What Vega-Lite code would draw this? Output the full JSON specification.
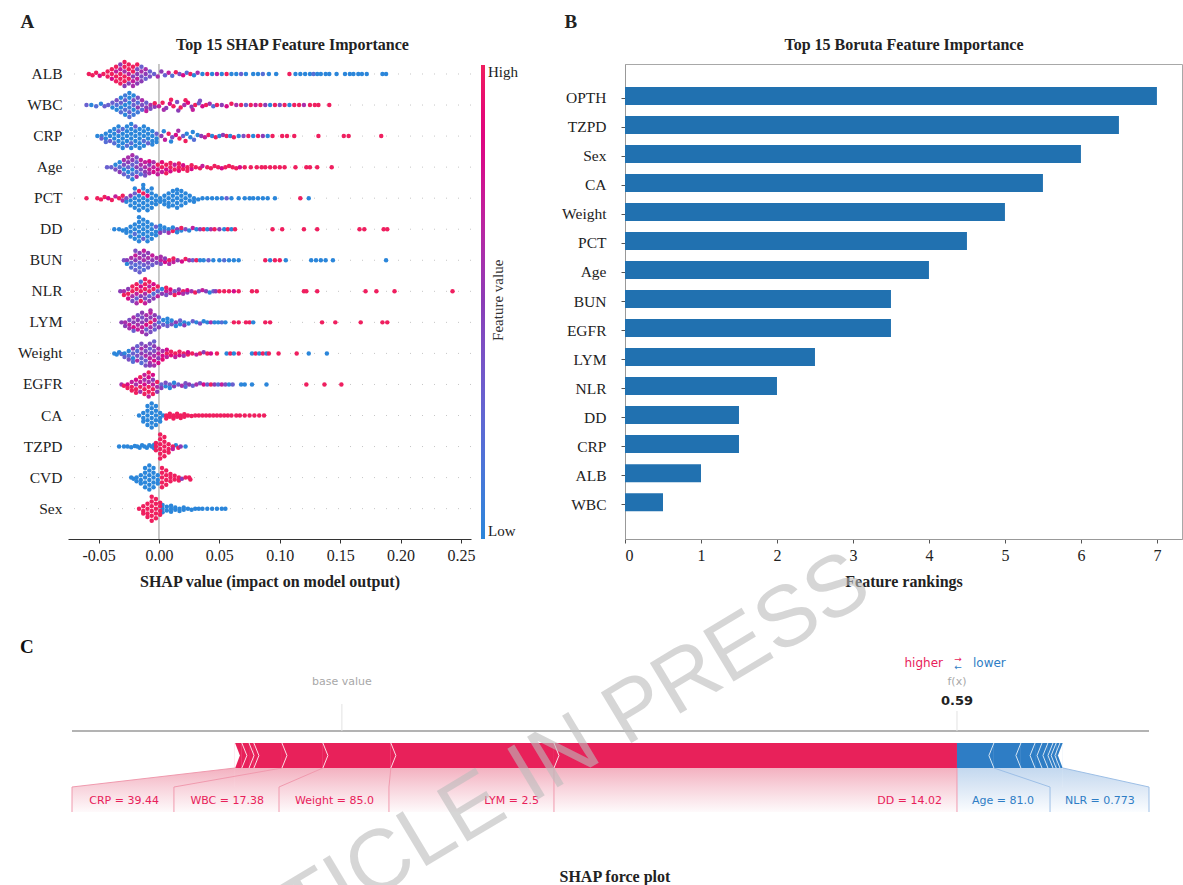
{
"$schema":"https://vega.github.io/schema/vega-lite/v6.json",
"background":"white",
"padding":{"left":17,"top":12,"right":0,"bottom":0},
"config":{
 "font":"Liberation Serif",
 "view":{"stroke":null},
 "axis":{"grid":false,"labelFont":"Liberation Serif","titleFont":"Liberation Serif","labelColor":"#222","titleColor":"#222"},
 "title":{"font":"Liberation Serif","fontWeight":"bold","color":"#222"},
 "legend":{"labelFont":"Liberation Serif"}
},
"datasets":{
 "segs":[
  {"f":"other1","lo":0.2488,"hi":0.2521,"d":"pos"},
  {"f":"other2","lo":0.2521,"hi":0.2555,"d":"pos"},
  {"f":"other3","lo":0.2555,"hi":0.2578,"d":"pos"},
  {"f":"CRP","lo":0.2578,"hi":0.2711,"d":"pos"},
  {"f":"WBC","lo":0.2711,"hi":0.2905,"d":"pos"},
  {"f":"Weight","lo":0.2905,"hi":0.3227,"d":"pos"},
  {"f":"LYM","lo":0.3227,"hi":0.4,"d":"pos"},
  {"f":"DD","lo":0.4,"hi":0.591,"d":"pos"},
  {"f":"Age","lo":0.591,"hi":0.6085,"d":"neg"},
  {"f":"NLR","lo":0.6085,"hi":0.6213,"d":"neg"},
  {"f":"other4","lo":0.6213,"hi":0.628,"d":"neg"},
  {"f":"other5","lo":0.628,"hi":0.6313,"d":"neg"},
  {"f":"other6","lo":0.6313,"hi":0.6341,"d":"neg"},
  {"f":"other7","lo":0.6341,"hi":0.6365,"d":"neg"},
  {"f":"other8","lo":0.6365,"hi":0.638,"d":"neg"},
  {"f":"other9","lo":0.638,"hi":0.6398,"d":"neg"},
  {"f":"other10","lo":0.6398,"hi":0.6412,"d":"neg"}
 ],
 "labs":[
  {"t":"CRP = 39.44","lo":0.1716,"hi":0.2199,"d":"pos"},
  {"t":"WBC = 17.38","lo":0.2199,"hi":0.2697,"d":"pos"},
  {"t":"Weight = 85.0","lo":0.2697,"hi":0.3218,"d":"pos"},
  {"t":"LYM = 2.5","lo":0.3218,"hi":0.4,"d":"pos"},
  {"t":"DD = 14.02","lo":0.4,"hi":0.591,"d":"pos"},
  {"t":"Age = 81.0","lo":0.591,"hi":0.6351,"d":"neg"},
  {"t":"NLR = 0.773","lo":0.6351,"hi":0.682,"d":"neg"}
 ],
 "links":[
  {"b":0.1716,"s":0.2488,"d":"pos"},
  {"b":0.2199,"s":0.2711,"d":"pos"},
  {"b":0.2697,"s":0.2905,"d":"pos"},
  {"b":0.3218,"s":0.3227,"d":"pos"},
  {"b":0.4,"s":0.4,"d":"pos"},
  {"b":0.591,"s":0.591,"d":"pos"},
  {"b":0.6351,"s":0.6085,"d":"neg"},
  {"b":0.682,"s":0.6412,"d":"neg"}
 ],
 "force":[{"base":0.2995,"fx":0.591}]
},
"columns":2,
"bounds":"flush",
"spacing":{"row":192,"column":154},
"resolve":{"scale":{"color":"independent"},"legend":{"color":"independent"}},
"concat":[
 {"width":403,"height":475,
  "title":{"text":"A","anchor":"start","fontSize":19,"offset":4,"dx":3},
  "resolve":{"axis":{"x":"independent"}},
  "layer":[
   {"data":{"values":[{"f":"ALB"},{"f":"WBC"},{"f":"CRP"},{"f":"Age"},{"f":"PCT"},{"f":"DD"},{"f":"BUN"},{"f":"NLR"},{"f":"LYM"},{"f":"Weight"},{"f":"EGFR"},{"f":"CA"},{"f":"TZPD"},{"f":"CVD"},{"f":"Sex"}]},
    "mark":{"type":"rule","color":"#c6c6c6","strokeDash":[1,11],"strokeWidth":1},
    "encoding":{"y":{"field":"f","type":"nominal",
      "scale":{"domain":["ALB","WBC","CRP","Age","PCT","DD","BUN","NLR","LYM","Weight","EGFR","CA","TZPD","CVD","Sex"],"paddingInner":0.5,"paddingOuter":0.4,"align":0.09},
      "axis":{"title":null,"domain":false,"ticks":false,"labelFontSize":15.5,"labelPadding":6}}}},
   {"data":{"values":[{}]},
    "mark":{"type":"rule","color":"#a6a6a6","strokeWidth":1.2},
    "encoding":{"x":{"datum":0,"type":"quantitative","axis":null}}},
   {"data":{"values":"f,s,o,v\nALB,-0.058,0,1\nALB,-0.055,0.1,1\nALB,-0.052,-0.1,1\nALB,-0.049,0.15,0.8\nALB,-0.046,0,1\nALB,-0.0425,0.2,1\nALB,-0.0425,-0.2,1\nALB,-0.039,0,1\nALB,-0.039,0.4,0.8\nALB,-0.039,-0.4,1\nALB,-0.0355,0.2,1\nALB,-0.0355,-0.2,0.7\nALB,-0.0355,0.6,1\nALB,-0.0355,-0.6,1\nALB,-0.032,0,1\nALB,-0.032,0.4,1\nALB,-0.032,-0.4,0.7\nALB,-0.032,0.8,1\nALB,-0.032,-0.8,0.5\nALB,-0.0285,0.2,1\nALB,-0.0285,-0.2,0.6\nALB,-0.0285,0.6,1\nALB,-0.0285,-0.6,1\nALB,-0.0285,1,0.5\nALB,-0.0285,-1,1\nALB,-0.025,0,0.7\nALB,-0.025,0.4,1\nALB,-0.025,-0.4,1\nALB,-0.025,0.8,0.5\nALB,-0.025,-0.8,1\nALB,-0.0215,0.2,0.5\nALB,-0.0215,-0.2,1\nALB,-0.0215,0.6,0.7\nALB,-0.0215,-0.6,1\nALB,-0.0215,1,0.6\nALB,-0.018,0,0.5\nALB,-0.018,0.4,0.7\nALB,-0.018,-0.4,0.4\nALB,-0.018,0.8,0.5\nALB,-0.018,-0.8,1\nALB,-0.0145,0.2,0.4\nALB,-0.0145,-0.2,0.6\nALB,-0.0145,0.6,0.5\nALB,-0.0145,-0.6,0.3\nALB,-0.011,0,0.5\nALB,-0.011,0.4,0.3\nALB,-0.011,-0.4,0.6\nALB,-0.0075,0.2,0.4\nALB,-0.0075,-0.2,0.3\nALB,-0.004,0,0.3\nALB,-0.001,0.2,0.6\nALB,0.002,-0.2,0.5\nALB,0.005,0.1,0.3\nALB,0.008,-0.1,0.7\nALB,0.011,0.15,0.2\nALB,0.014,-0.15,1\nALB,0.017,0,0.4\nALB,0.02,0.1,0.8\nALB,0.023,-0.1,0.2\nALB,0.026,0,1\nALB,0.029,0.1,0\nALB,0.032,-0.1,0.6\nALB,0.036,0,0\nALB,0.04,0,1\nALB,0.044,0,0\nALB,0.048,0,0.7\nALB,0.052,0,0\nALB,0.056,0,1\nALB,0.06,0,0\nALB,0.064,0,0\nALB,0.068,0,0.3\nALB,0.072,0,0\nALB,0.078,0,0\nALB,0.082,0,0\nALB,0.086,0,0.2\nALB,0.091,0,0\nALB,0.097,0,0\nALB,0.108,0,1\nALB,0.113,0,0\nALB,0.117,0,0\nALB,0.121,0,0\nALB,0.125,0,0\nALB,0.128,0,0.2\nALB,0.131,0,0\nALB,0.134,0,0\nALB,0.138,0,0\nALB,0.141,0,0\nALB,0.147,0,0\nALB,0.154,0,0\nALB,0.158,0,0\nALB,0.161,0,0\nALB,0.165,0,0\nALB,0.168,0,0\nALB,0.172,0,0\nALB,0.185,0,0\nALB,0.188,0,0\nWBC,-0.06,0,0.3\nWBC,-0.056,0,0\nWBC,-0.052,0.1,0.2\nWBC,-0.048,-0.1,0\nWBC,-0.045,0.1,0.3\nWBC,-0.042,0,0.3\nWBC,-0.0385,0.2,0\nWBC,-0.0385,-0.2,0.3\nWBC,-0.035,0,0.2\nWBC,-0.035,0.4,0\nWBC,-0.035,-0.4,0.4\nWBC,-0.0315,0.2,0\nWBC,-0.0315,-0.2,0.3\nWBC,-0.0315,0.6,0.2\nWBC,-0.0315,-0.6,0\nWBC,-0.028,0,0\nWBC,-0.028,0.4,0.2\nWBC,-0.028,-0.4,0.3\nWBC,-0.028,0.8,0\nWBC,-0.028,-0.8,0.1\nWBC,-0.0245,0.2,0.1\nWBC,-0.0245,-0.2,0\nWBC,-0.0245,0.6,0.3\nWBC,-0.0245,-0.6,0\nWBC,-0.0245,1,0.2\nWBC,-0.0245,-1,0\nWBC,-0.021,0,0.3\nWBC,-0.021,0.4,0\nWBC,-0.021,-0.4,0.4\nWBC,-0.021,0.8,0.1\nWBC,-0.021,-0.8,0\nWBC,-0.0175,0.2,0.5\nWBC,-0.0175,-0.2,0.2\nWBC,-0.0175,0.6,0.1\nWBC,-0.0175,-0.6,0.4\nWBC,-0.014,0,0.4\nWBC,-0.014,0.4,0.2\nWBC,-0.014,-0.4,0.6\nWBC,-0.0105,0.2,0.5\nWBC,-0.0105,-0.2,0.3\nWBC,-0.0105,0.5,0.7\nWBC,-0.007,0,0.6\nWBC,-0.007,0.3,0.4\nWBC,-0.0035,0.15,0.5\nWBC,-0.0035,-0.15,1\nWBC,0,0.1,0.7\nWBC,0.003,-0.2,1\nWBC,0.004,0.4,0.6\nWBC,0.006,0.25,0.5\nWBC,0.009,-0.1,0.8\nWBC,0.01,-0.45,1\nWBC,0.012,0.1,1\nWBC,0.015,-0.25,0.4\nWBC,0.016,0.45,0.5\nWBC,0.018,0.2,1\nWBC,0.021,0,0.6\nWBC,0.022,-0.4,1\nWBC,0.024,-0.2,0.9\nWBC,0.027,0.15,0.5\nWBC,0.028,0.4,0.7\nWBC,0.03,0,1\nWBC,0.033,-0.15,0.3\nWBC,0.034,-0.35,0.4\nWBC,0.036,0.1,0.8\nWBC,0.039,0,1\nWBC,0.042,-0.1,0.6\nWBC,0.045,0.1,0.2\nWBC,0.048,0,1\nWBC,0.052,0,0.5\nWBC,0.056,0.1,0.8\nWBC,0.06,-0.1,1\nWBC,0.064,0,0.6\nWBC,0.068,0,1\nWBC,0.072,0,0.3\nWBC,0.076,0,1\nWBC,0.08,0,0.7\nWBC,0.084,0,1\nWBC,0.088,0,0.5\nWBC,0.092,0,0\nWBC,0.096,0,1\nWBC,0.1,0,0.4\nWBC,0.104,0,1\nWBC,0.108,0,0\nWBC,0.112,0,1\nWBC,0.116,0,1\nWBC,0.12,0,0.6\nWBC,0.125,0,1\nWBC,0.129,0,1\nWBC,0.132,0,1\nWBC,0.141,0,1\nCRP,-0.051,0,0\nCRP,-0.0475,0,0\nCRP,-0.0475,0.2,0.3\nCRP,-0.044,0.2,0\nCRP,-0.044,-0.2,0\nCRP,-0.044,0.5,0.2\nCRP,-0.0405,0,0\nCRP,-0.0405,0.4,0.3\nCRP,-0.0405,-0.4,0\nCRP,-0.037,0.2,0\nCRP,-0.037,-0.2,0\nCRP,-0.037,0.6,0.2\nCRP,-0.037,-0.6,0\nCRP,-0.0335,0,0\nCRP,-0.0335,0.4,0\nCRP,-0.0335,-0.4,0.3\nCRP,-0.0335,0.8,0\nCRP,-0.0335,-0.8,0\nCRP,-0.03,0.2,0\nCRP,-0.03,-0.2,0\nCRP,-0.03,0.6,0\nCRP,-0.03,-0.6,0.2\nCRP,-0.03,1,0\nCRP,-0.0265,0,0\nCRP,-0.0265,0.4,0\nCRP,-0.0265,-0.4,0\nCRP,-0.0265,0.8,0.2\nCRP,-0.0265,-0.8,0\nCRP,-0.023,0.2,0\nCRP,-0.023,-0.2,0\nCRP,-0.023,0.6,0.2\nCRP,-0.023,-0.6,0\nCRP,-0.023,1,0\nCRP,-0.023,-1,0\nCRP,-0.0195,0,0\nCRP,-0.0195,0.4,0\nCRP,-0.0195,-0.4,0\nCRP,-0.0195,0.8,0\nCRP,-0.0195,-0.8,0.3\nCRP,-0.016,0.2,0\nCRP,-0.016,-0.2,0\nCRP,-0.016,0.6,0\nCRP,-0.016,-0.6,0\nCRP,-0.016,1,0\nCRP,-0.0125,0,0\nCRP,-0.0125,0.4,0.2\nCRP,-0.0125,-0.4,0\nCRP,-0.0125,0.8,0\nCRP,-0.0125,-0.8,0\nCRP,-0.009,0.2,0\nCRP,-0.009,-0.2,0\nCRP,-0.009,0.6,0.3\nCRP,-0.009,-0.6,0\nCRP,-0.0055,0,0\nCRP,-0.0055,0.4,0\nCRP,-0.0055,-0.4,0\nCRP,-0.0055,0.7,0\nCRP,-0.002,0.2,0\nCRP,-0.002,-0.2,0.3\nCRP,-0.002,0.5,0\nCRP,0.002,0,0.5\nCRP,0.004,-0.4,0\nCRP,0.005,0.3,0.7\nCRP,0.008,-0.2,1\nCRP,0.01,0.45,0\nCRP,0.011,0.1,0.4\nCRP,0.014,-0.1,0.8\nCRP,0.016,-0.45,0.6\nCRP,0.017,0.2,1\nCRP,0.02,0,0.3\nCRP,0.022,0.4,1\nCRP,0.023,-0.2,0\nCRP,0.026,0.1,0\nCRP,0.028,-0.35,0\nCRP,0.029,0.3,0.2\nCRP,0.032,-0.1,0\nCRP,0.035,0,0.5\nCRP,0.038,0.1,0.7\nCRP,0.041,-0.1,1\nCRP,0.044,0,0\nCRP,0.047,0.1,1\nCRP,0.05,0,0\nCRP,0.053,-0.1,0.5\nCRP,0.056,0,1\nCRP,0.059,0,0\nCRP,0.062,0.1,1\nCRP,0.066,0,0\nCRP,0.07,0,0.4\nCRP,0.074,0,1\nCRP,0.078,0,0\nCRP,0.082,0,1\nCRP,0.086,0,0.5\nCRP,0.09,0,0\nCRP,0.094,0,1\nCRP,0.102,0,1\nCRP,0.106,0,1\nCRP,0.112,0,1\nCRP,0.132,0,1\nCRP,0.153,0,1\nCRP,0.157,0,1\nCRP,0.184,0,1\nAge,-0.043,0,0.3\nAge,-0.0395,0,0.3\nAge,-0.036,0.2,0.4\nAge,-0.036,-0.2,0\nAge,-0.0325,0,0.2\nAge,-0.0325,0.4,0.5\nAge,-0.0325,-0.4,0\nAge,-0.029,0.2,0\nAge,-0.029,-0.2,0.4\nAge,-0.029,0.6,0.3\nAge,-0.029,-0.6,0.6\nAge,-0.0255,0,0.3\nAge,-0.0255,0.4,0\nAge,-0.0255,-0.4,0.5\nAge,-0.0255,0.8,0.2\nAge,-0.0255,-0.8,0.6\nAge,-0.022,0.2,0\nAge,-0.022,-0.2,0.3\nAge,-0.022,0.6,0.2\nAge,-0.022,-0.6,0.5\nAge,-0.022,1,0\nAge,-0.022,-1,0.6\nAge,-0.0185,0,0.5\nAge,-0.0185,0.4,0.2\nAge,-0.0185,-0.4,0.3\nAge,-0.0185,0.8,0.6\nAge,-0.0185,-0.8,0.4\nAge,-0.015,0.2,0.4\nAge,-0.015,-0.2,0.6\nAge,-0.015,0.6,0.2\nAge,-0.015,-0.6,0.7\nAge,-0.0115,0,0.6\nAge,-0.0115,0.4,0.5\nAge,-0.0115,-0.4,0.7\nAge,-0.0115,0.7,0.4\nAge,-0.008,0.2,0.7\nAge,-0.008,-0.2,0.5\nAge,-0.008,0.5,0.6\nAge,-0.008,-0.5,0.8\nAge,-0.0045,0,0.7\nAge,-0.0045,0.4,0.8\nAge,-0.0045,-0.4,0.6\nAge,-0.001,0.2,0.8\nAge,-0.001,-0.2,1\nAge,-0.001,0.6,0.7\nAge,0.0025,0,1\nAge,0.0025,0.4,0.7\nAge,0.0025,-0.4,0.9\nAge,0.006,0.2,0.8\nAge,0.006,-0.2,1\nAge,0.006,0.5,1\nAge,0.0095,0,1\nAge,0.0095,0.35,0.8\nAge,0.0095,-0.35,1\nAge,0.013,0.2,1\nAge,0.013,-0.2,0.7\nAge,0.0165,0,1\nAge,0.0165,0.3,0.9\nAge,0.0165,-0.3,1\nAge,0.02,0.15,1\nAge,0.02,-0.15,0.8\nAge,0.0235,0,1\nAge,0.0235,0.3,1\nAge,0.027,0.15,0.8\nAge,0.027,-0.15,1\nAge,0.0305,0,1\nAge,0.034,0.1,1\nAge,0.036,-0.1,0.7\nAge,0.04,0,1\nAge,0.043,0.1,1\nAge,0.046,-0.1,1\nAge,0.049,0,1\nAge,0.052,0.1,0.8\nAge,0.055,0,1\nAge,0.058,-0.1,1\nAge,0.061,0,1\nAge,0.064,0.1,1\nAge,0.067,0,0.8\nAge,0.071,0,1\nAge,0.076,0,1\nAge,0.081,0,1\nAge,0.085,0,1\nAge,0.088,0,1\nAge,0.092,0,1\nAge,0.096,0,1\nAge,0.1,0,1\nAge,0.104,0,1\nAge,0.113,0,1\nAge,0.122,0,1\nAge,0.125,0,1\nAge,0.131,0,1\nAge,0.143,0,1\nPCT,-0.06,0,1\nPCT,-0.051,0,1\nPCT,-0.048,0.1,1\nPCT,-0.045,-0.1,1\nPCT,-0.042,0,0.8\nPCT,-0.039,0.15,1\nPCT,-0.036,-0.15,0.7\nPCT,-0.033,0,1\nPCT,-0.03,0.2,0.6\nPCT,-0.03,-0.2,1\nPCT,-0.027,0,0.4\nPCT,-0.027,0.3,0\nPCT,-0.0235,0.2,0\nPCT,-0.0235,-0.2,0.5\nPCT,-0.0235,0.6,0\nPCT,-0.02,0,0\nPCT,-0.02,0.4,0\nPCT,-0.02,-0.4,0.3\nPCT,-0.02,0.8,0\nPCT,-0.02,-0.8,0\nPCT,-0.0165,0.2,0\nPCT,-0.0165,-0.2,0\nPCT,-0.0165,0.6,0\nPCT,-0.0165,-0.6,1\nPCT,-0.0165,1,0\nPCT,-0.013,0,0\nPCT,-0.013,0.4,0\nPCT,-0.013,-0.4,1\nPCT,-0.013,0.8,0\nPCT,-0.013,-0.8,0\nPCT,-0.013,-1.1,0\nPCT,-0.0095,0.2,0\nPCT,-0.0095,-0.2,0.8\nPCT,-0.0095,0.6,0\nPCT,-0.0095,-0.6,0\nPCT,-0.0095,1,0\nPCT,-0.006,0,0\nPCT,-0.006,0.4,0\nPCT,-0.006,-0.4,0\nPCT,-0.006,0.8,0\nPCT,-0.006,-0.8,0\nPCT,-0.0025,0.2,0\nPCT,-0.0025,-0.2,0\nPCT,-0.0025,0.5,0\nPCT,0.001,0,0\nPCT,0.001,0.3,0\nPCT,0.0045,0.2,0\nPCT,0.0045,-0.2,0\nPCT,0.0045,0.5,0\nPCT,0.008,0,0\nPCT,0.008,0.4,0\nPCT,0.008,-0.4,0\nPCT,0.008,0.7,0\nPCT,0.0115,0.2,0\nPCT,0.0115,-0.2,0\nPCT,0.0115,0.6,0\nPCT,0.0115,-0.6,0\nPCT,0.015,0,0\nPCT,0.015,0.4,0\nPCT,0.015,-0.4,0\nPCT,0.015,0.8,0\nPCT,0.015,-0.7,0\nPCT,0.0185,0.2,0\nPCT,0.0185,-0.2,0\nPCT,0.0185,0.6,0\nPCT,0.0185,-0.6,0\nPCT,0.022,0,0\nPCT,0.022,0.4,0\nPCT,0.022,-0.4,0\nPCT,0.0255,0.2,0\nPCT,0.0255,-0.2,0\nPCT,0.029,0,0\nPCT,0.029,0.3,0\nPCT,0.0325,0.1,0\nPCT,0.036,0,0\nPCT,0.04,0,0\nPCT,0.044,0,0\nPCT,0.048,0,0\nPCT,0.052,0,0\nPCT,0.056,0,0.3\nPCT,0.06,0,0\nPCT,0.066,0,0\nPCT,0.071,0,0\nPCT,0.075,0,0\nPCT,0.078,0,0\nPCT,0.082,0,0\nPCT,0.086,0,0\nPCT,0.09,0,0\nPCT,0.096,0,0\nPCT,0.117,0,1\nPCT,0.124,0,0\nDD,-0.037,0,0\nDD,-0.033,0,0\nDD,-0.03,0.1,0\nDD,-0.027,0,0\nDD,-0.027,0.3,0\nDD,-0.0235,0.2,0\nDD,-0.0235,-0.2,0\nDD,-0.0235,0.6,0\nDD,-0.02,0,0\nDD,-0.02,0.4,0.2\nDD,-0.02,-0.4,0\nDD,-0.02,0.8,0\nDD,-0.0165,0.2,0\nDD,-0.0165,-0.2,0\nDD,-0.0165,0.6,0\nDD,-0.0165,-0.6,0\nDD,-0.0165,1,0\nDD,-0.0165,-1,0\nDD,-0.013,0,0\nDD,-0.013,0.4,0\nDD,-0.013,-0.4,0\nDD,-0.013,0.8,0.3\nDD,-0.013,-0.8,0\nDD,-0.0095,0.2,0\nDD,-0.0095,-0.2,0\nDD,-0.0095,0.6,0\nDD,-0.0095,-0.6,0\nDD,-0.0095,1,0\nDD,-0.006,0,0\nDD,-0.006,0.4,0\nDD,-0.006,-0.4,0\nDD,-0.006,0.8,0\nDD,-0.0025,0.2,0\nDD,-0.0025,-0.2,0.3\nDD,-0.0025,0.5,0\nDD,0.001,0,0\nDD,0.001,0.3,0.5\nDD,0.001,-0.3,0\nDD,0.0045,0.15,0.3\nDD,0.0045,-0.15,0\nDD,0.008,0,0\nDD,0.008,0.3,0.6\nDD,0.0115,0.15,1\nDD,0.0115,-0.15,0\nDD,0.015,0,0.5\nDD,0.015,0.25,0\nDD,0.0185,0.1,0\nDD,0.0185,-0.1,1\nDD,0.022,0,0.4\nDD,0.025,0.1,0\nDD,0.028,-0.1,0.7\nDD,0.031,0,0\nDD,0.034,0,0.5\nDD,0.037,0,1\nDD,0.04,0,0\nDD,0.043,0,0.6\nDD,0.046,0,1\nDD,0.05,0,0.5\nDD,0.054,0,0\nDD,0.057,0,1\nDD,0.06,0,0\nDD,0.063,0,1\nDD,0.094,0,1\nDD,0.102,0,1\nDD,0.12,0,1\nDD,0.131,0,1\nDD,0.166,0,1\nDD,0.17,0,1\nDD,0.186,0,1\nDD,0.189,0,1\nBUN,-0.029,0,0.4\nBUN,-0.0265,0,0.5\nBUN,-0.0265,0.3,0\nBUN,-0.023,0.2,0.3\nBUN,-0.023,-0.2,0.6\nBUN,-0.023,0.6,0.2\nBUN,-0.0195,0,0.5\nBUN,-0.0195,0.4,0.2\nBUN,-0.0195,-0.4,0.7\nBUN,-0.0195,0.8,0.3\nBUN,-0.0195,-0.8,0.4\nBUN,-0.016,0.2,0.3\nBUN,-0.016,-0.2,0.6\nBUN,-0.016,0.6,0.2\nBUN,-0.016,-0.6,0.5\nBUN,-0.016,1,0.3\nBUN,-0.0125,0,0.6\nBUN,-0.0125,0.4,0.3\nBUN,-0.0125,-0.4,0.5\nBUN,-0.0125,0.8,0.2\nBUN,-0.0125,-0.8,0.7\nBUN,-0.009,0.2,0.4\nBUN,-0.009,-0.2,0.6\nBUN,-0.009,0.6,0.3\nBUN,-0.009,-0.6,0.5\nBUN,-0.0055,0,0.5\nBUN,-0.0055,0.4,0.3\nBUN,-0.0055,-0.4,0.7\nBUN,-0.002,0.2,0.4\nBUN,-0.002,-0.2,0.6\nBUN,0.0015,0,0.7\nBUN,0.0015,0.3,0.4\nBUN,0.0015,-0.3,0.6\nBUN,0.005,0.15,0.8\nBUN,0.005,-0.15,0.5\nBUN,0.0085,0,1\nBUN,0.0085,0.3,0.6\nBUN,0.012,0.15,0.7\nBUN,0.012,-0.15,1\nBUN,0.0155,0,0.5\nBUN,0.019,0.1,0.8\nBUN,0.022,-0.1,1\nBUN,0.025,0,0.6\nBUN,0.028,0,0.3\nBUN,0.031,0,1\nBUN,0.034,0,0\nBUN,0.037,0,0\nBUN,0.041,0,0.3\nBUN,0.045,0,0\nBUN,0.05,0,0\nBUN,0.054,0,0.2\nBUN,0.058,0,0\nBUN,0.062,0,0\nBUN,0.066,0,0\nBUN,0.088,0,1\nBUN,0.092,0,0\nBUN,0.096,0,1\nBUN,0.1,0,1\nBUN,0.105,0,0\nBUN,0.126,0,0\nBUN,0.13,0,0\nBUN,0.134,0,0\nBUN,0.138,0,0\nBUN,0.144,0,0\nBUN,0.188,0,0\nNLR,-0.032,0,0.5\nNLR,-0.029,0,0.6\nNLR,-0.029,0.3,1\nNLR,-0.0255,0.2,1\nNLR,-0.0255,-0.2,0.5\nNLR,-0.0255,0.6,0.8\nNLR,-0.022,0,1\nNLR,-0.022,0.4,0.6\nNLR,-0.022,-0.4,1\nNLR,-0.022,0.8,0.4\nNLR,-0.0185,0.2,0.7\nNLR,-0.0185,-0.2,1\nNLR,-0.0185,0.6,0.3\nNLR,-0.0185,-0.6,1\nNLR,-0.0185,1,0.6\nNLR,-0.015,0,1\nNLR,-0.015,0.4,0.5\nNLR,-0.015,-0.4,0.8\nNLR,-0.015,0.8,1\nNLR,-0.015,-0.8,0.2\nNLR,-0.0115,0.2,0.6\nNLR,-0.0115,-0.2,1\nNLR,-0.0115,0.6,0.4\nNLR,-0.0115,-0.6,1\nNLR,-0.0115,1,0.7\nNLR,-0.0115,-1,1\nNLR,-0.008,0,1\nNLR,-0.008,0.4,0.3\nNLR,-0.008,-0.4,0.7\nNLR,-0.008,0.8,0.5\nNLR,-0.008,-0.8,1\nNLR,-0.0045,0.2,0.2\nNLR,-0.0045,-0.2,1\nNLR,-0.0045,0.6,0.5\nNLR,-0.0045,-0.6,0.8\nNLR,-0.001,0,0.3\nNLR,-0.001,0.4,0.7\nNLR,-0.001,-0.4,1\nNLR,0.0025,0.2,0.5\nNLR,0.0025,-0.2,0\nNLR,0.006,0,0.7\nNLR,0.006,0.3,0.4\nNLR,0.006,-0.3,1\nNLR,0.0095,0.15,0.6\nNLR,0.0095,-0.15,0.9\nNLR,0.013,0,0.4\nNLR,0.013,0.3,1\nNLR,0.0165,0.15,0.8\nNLR,0.0165,-0.15,0.5\nNLR,0.02,0,1\nNLR,0.02,0.2,0.6\nNLR,0.0235,0.1,0.5\nNLR,0.0235,-0.1,0.8\nNLR,0.027,0,0.6\nNLR,0.03,0.1,1\nNLR,0.033,0,0.4\nNLR,0.036,-0.1,0.7\nNLR,0.039,0,0.5\nNLR,0.042,0.1,0\nNLR,0.045,0,0.3\nNLR,0.047,0,0.5\nNLR,0.05,0,1\nNLR,0.054,0,1\nNLR,0.058,0,1\nNLR,0.062,0,0.8\nNLR,0.066,0,1\nNLR,0.077,0,1\nNLR,0.081,0,1\nNLR,0.12,0,1\nNLR,0.122,0,1\nNLR,0.131,0,1\nNLR,0.171,0,1\nNLR,0.18,0,1\nNLR,0.195,0,1\nNLR,0.243,0,1\nLYM,-0.031,0,0.5\nLYM,-0.028,0,0.6\nLYM,-0.028,0.3,0.5\nLYM,-0.0245,0.2,0.7\nLYM,-0.0245,-0.2,0.4\nLYM,-0.0245,0.5,0.6\nLYM,-0.021,0,0.5\nLYM,-0.021,0.4,0.8\nLYM,-0.021,-0.4,0.6\nLYM,-0.021,0.7,0.3\nLYM,-0.0175,0.2,0.6\nLYM,-0.0175,-0.2,0.5\nLYM,-0.0175,0.6,0.7\nLYM,-0.0175,-0.6,0.4\nLYM,-0.014,0,0.5\nLYM,-0.014,0.4,0.7\nLYM,-0.014,-0.4,0.4\nLYM,-0.014,0.8,0.6\nLYM,-0.014,-0.8,0.5\nLYM,-0.0105,0.2,0.8\nLYM,-0.0105,-0.2,0.5\nLYM,-0.0105,0.6,0.3\nLYM,-0.0105,-0.6,0.6\nLYM,-0.0105,1,0.5\nLYM,-0.007,0,1\nLYM,-0.007,0.4,0.6\nLYM,-0.007,-0.4,0.5\nLYM,-0.007,0.8,0.4\nLYM,-0.007,-0.8,0.7\nLYM,-0.007,-1,0.6\nLYM,-0.0035,0.2,0.4\nLYM,-0.0035,-0.2,0.7\nLYM,-0.0035,0.6,0.3\nLYM,-0.0035,-0.6,0.5\nLYM,0,0,0.2\nLYM,0,0.4,0.5\nLYM,0,-0.4,0.3\nLYM,0.0035,0.2,0.3\nLYM,0.0035,-0.2,0\nLYM,0.007,0,0\nLYM,0.007,0.3,0.3\nLYM,0.007,-0.3,0\nLYM,0.0105,0.15,0.4\nLYM,0.0105,-0.15,0\nLYM,0.014,0,0.5\nLYM,0.014,0.3,0\nLYM,0.0175,0.15,0\nLYM,0.0175,-0.15,0.3\nLYM,0.021,0,0\nLYM,0.021,0.25,0.5\nLYM,0.0245,0.1,0\nLYM,0.028,-0.1,0.3\nLYM,0.031,0,0\nLYM,0.034,0.1,0.4\nLYM,0.037,-0.1,0\nLYM,0.04,0,0\nLYM,0.043,0,0.6\nLYM,0.046,0,0\nLYM,0.049,0,0\nLYM,0.052,0,0.2\nLYM,0.055,0,0\nLYM,0.062,0,1\nLYM,0.066,0,1\nLYM,0.072,0,1\nLYM,0.075,0,1\nLYM,0.078,0,0\nLYM,0.088,0,1\nLYM,0.092,0,1\nLYM,0.135,0,1\nLYM,0.146,0,1\nLYM,0.167,0,1\nLYM,0.185,0,1\nLYM,0.189,0,1\nWeight,-0.037,0,0\nWeight,-0.035,0.1,0\nWeight,-0.033,-0.1,0\nWeight,-0.031,0.05,0.2\nWeight,-0.0285,0,0\nWeight,-0.0285,0.3,0.3\nWeight,-0.025,0.2,0.2\nWeight,-0.025,-0.2,0\nWeight,-0.025,0.5,0.4\nWeight,-0.0215,0,0.3\nWeight,-0.0215,0.4,0\nWeight,-0.0215,-0.4,0.5\nWeight,-0.0215,0.7,0.2\nWeight,-0.018,0.2,0.4\nWeight,-0.018,-0.2,0.2\nWeight,-0.018,0.6,0.6\nWeight,-0.018,-0.6,0.3\nWeight,-0.0145,0,0.5\nWeight,-0.0145,0.4,0.3\nWeight,-0.0145,-0.4,0.6\nWeight,-0.0145,0.8,0.2\nWeight,-0.0145,-0.8,0.4\nWeight,-0.011,0.2,0.6\nWeight,-0.011,-0.2,0.4\nWeight,-0.011,0.6,0.3\nWeight,-0.011,-0.6,0.5\nWeight,-0.011,1,0.4\nWeight,-0.0075,0,0.5\nWeight,-0.0075,0.4,0.7\nWeight,-0.0075,-0.4,0.3\nWeight,-0.0075,0.8,0.6\nWeight,-0.0075,-0.8,0.4\nWeight,-0.0075,1,0.5\nWeight,-0.004,0.2,0.6\nWeight,-0.004,-0.2,0.4\nWeight,-0.004,0.6,0.8\nWeight,-0.004,-0.6,0.5\nWeight,-0.004,1,0.6\nWeight,-0.004,-1,0.3\nWeight,-0.0005,0,0.7\nWeight,-0.0005,0.4,0.5\nWeight,-0.0005,-0.4,0.6\nWeight,-0.0005,0.8,0.8\nWeight,0.003,0.2,0.8\nWeight,0.003,-0.2,0.6\nWeight,0.003,0.5,0.9\nWeight,0.0065,0,1\nWeight,0.0065,0.3,0.7\nWeight,0.0065,-0.3,0.8\nWeight,0.01,0.15,0.9\nWeight,0.01,-0.15,1\nWeight,0.0135,0,1\nWeight,0.0135,0.3,0.7\nWeight,0.017,0.15,0.8\nWeight,0.017,-0.15,1\nWeight,0.0205,0,1\nWeight,0.0205,0.2,0.6\nWeight,0.024,0.1,1\nWeight,0.024,-0.1,0.8\nWeight,0.0275,0,1\nWeight,0.031,0.1,0.7\nWeight,0.034,0,1\nWeight,0.037,-0.1,0.5\nWeight,0.04,0,1\nWeight,0.043,0,0.8\nWeight,0.048,0,1\nWeight,0.056,0,0\nWeight,0.059,0,1\nWeight,0.062,0,0\nWeight,0.066,0,1\nWeight,0.077,0,0\nWeight,0.08,0,1\nWeight,0.083,0,0\nWeight,0.086,0,1\nWeight,0.089,0,0\nWeight,0.091,0,1\nWeight,0.099,0,1\nWeight,0.114,0,1\nWeight,0.124,0,0\nWeight,0.139,0,0\nEGFR,-0.031,0,0.6\nEGFR,-0.029,0.1,1\nEGFR,-0.026,0,0.8\nEGFR,-0.026,0.3,1\nEGFR,-0.0225,0.2,1\nEGFR,-0.0225,-0.2,0.7\nEGFR,-0.0225,0.5,1\nEGFR,-0.019,0,0.6\nEGFR,-0.019,0.4,1\nEGFR,-0.019,-0.4,0.8\nEGFR,-0.019,0.7,1\nEGFR,-0.0155,0.2,1\nEGFR,-0.0155,-0.2,0.7\nEGFR,-0.0155,0.6,0.6\nEGFR,-0.0155,-0.6,1\nEGFR,-0.012,0,0.8\nEGFR,-0.012,0.4,1\nEGFR,-0.012,-0.4,0.6\nEGFR,-0.012,0.8,1\nEGFR,-0.012,-0.8,0.7\nEGFR,-0.0085,0.2,1\nEGFR,-0.0085,-0.2,0.6\nEGFR,-0.0085,0.6,1\nEGFR,-0.0085,-0.6,0.8\nEGFR,-0.0085,1,0.7\nEGFR,-0.0085,-1,1\nEGFR,-0.005,0,0.7\nEGFR,-0.005,0.4,1\nEGFR,-0.005,-0.4,0.5\nEGFR,-0.005,0.8,1\nEGFR,-0.005,-0.8,0.8\nEGFR,-0.0015,0.2,0.6\nEGFR,-0.0015,-0.2,1\nEGFR,-0.0015,0.6,0.5\nEGFR,0.002,0,0.3\nEGFR,0.002,0.3,0.5\nEGFR,0.0055,0.15,0\nEGFR,0.0055,-0.15,0.4\nEGFR,0.009,0,0.3\nEGFR,0.009,0.3,0\nEGFR,0.0125,0.15,0.5\nEGFR,0.0125,-0.15,0\nEGFR,0.016,0,0.3\nEGFR,0.019,0.1,0.6\nEGFR,0.022,-0.1,0.4\nEGFR,0.022,0.2,0.2\nEGFR,0.025,0,0.5\nEGFR,0.028,0.1,0.3\nEGFR,0.031,0,0.6\nEGFR,0.034,-0.1,0.4\nEGFR,0.037,0,0.8\nEGFR,0.04,0,0.3\nEGFR,0.043,0,1\nEGFR,0.046,0,0.5\nEGFR,0.049,0,0.2\nEGFR,0.052,0,0.7\nEGFR,0.055,0,0.4\nEGFR,0.058,0,0\nEGFR,0.061,0,0.3\nEGFR,0.068,0,0\nEGFR,0.071,0,0\nEGFR,0.077,0,0\nEGFR,0.089,0,0\nEGFR,0.122,0,1\nEGFR,0.137,0,1\nEGFR,0.151,0,1\nCA,-0.0165,0,0\nCA,-0.013,0.2,0\nCA,-0.013,-0.2,0\nCA,-0.013,0.5,0\nCA,-0.0095,0,0\nCA,-0.0095,0.4,0\nCA,-0.0095,-0.4,0\nCA,-0.0095,0.8,0\nCA,-0.0095,-0.8,0\nCA,-0.006,0.2,0\nCA,-0.006,-0.2,0\nCA,-0.006,0.6,0\nCA,-0.006,-0.6,0\nCA,-0.006,1,0\nCA,-0.006,-1,0\nCA,-0.0025,0,0\nCA,-0.0025,0.4,0\nCA,-0.0025,-0.4,0\nCA,-0.0025,0.8,0\nCA,-0.0025,-0.8,0\nCA,0.001,0.2,0\nCA,0.001,-0.2,0\nCA,0.001,0.5,0\nCA,0.0035,0,0\nCA,0.006,0,1\nCA,0.006,0.25,1\nCA,0.009,0.1,1\nCA,0.009,-0.15,1\nCA,0.012,0,1\nCA,0.012,0.25,1\nCA,0.015,0.1,1\nCA,0.015,-0.15,1\nCA,0.018,0,1\nCA,0.018,0.2,1\nCA,0.021,0.1,1\nCA,0.021,-0.1,1\nCA,0.024,0,1\nCA,0.027,0.05,1\nCA,0.03,0,1\nCA,0.033,0,1\nCA,0.036,0,1\nCA,0.039,0,1\nCA,0.042,0,1\nCA,0.045,0,1\nCA,0.048,0,1\nCA,0.051,0,1\nCA,0.054,0,1\nCA,0.057,0,1\nCA,0.06,0,1\nCA,0.064,0,1\nCA,0.067,0,1\nCA,0.071,0,1\nCA,0.075,0,1\nCA,0.079,0,1\nCA,0.083,0,1\nCA,0.087,0,1\nTZPD,-0.033,0,0\nTZPD,-0.029,0,0\nTZPD,-0.026,0,0\nTZPD,-0.023,0.05,0\nTZPD,-0.02,-0.05,0\nTZPD,-0.018,0,0\nTZPD,-0.016,0.1,0\nTZPD,-0.014,-0.1,0\nTZPD,-0.012,0,0\nTZPD,-0.01,0.1,0\nTZPD,-0.008,-0.1,0\nTZPD,-0.006,0,0\nTZPD,-0.004,0.15,0\nTZPD,-0.004,-0.15,0\nTZPD,0.014,-0.1,0\nTZPD,0.022,0,0\nTZPD,-0.0025,0,1\nTZPD,-0.0025,0.3,1\nTZPD,-0.0025,-0.3,1\nTZPD,0.001,0.2,1\nTZPD,0.001,-0.2,1\nTZPD,0.001,0.6,1\nTZPD,0.001,-0.6,1\nTZPD,0.001,1,1\nTZPD,0.001,-1,1\nTZPD,0.0045,0,1\nTZPD,0.0045,0.4,1\nTZPD,0.0045,-0.4,1\nTZPD,0.0045,0.8,1\nTZPD,0.0045,-0.8,1\nTZPD,0.008,0.2,1\nTZPD,0.008,-0.2,1\nTZPD,0.008,0.5,1\nTZPD,0.0115,0,1\nTZPD,0.0115,0.2,0.7\nTZPD,0.016,0.1,1\nTZPD,0.018,0,0.5\nCVD,-0.023,0,0\nCVD,-0.021,0.1,0\nCVD,-0.0185,0,0\nCVD,-0.0185,0.3,0\nCVD,-0.015,0.2,0\nCVD,-0.015,-0.2,0\nCVD,-0.015,0.5,0\nCVD,-0.0115,0,0\nCVD,-0.0115,0.4,0\nCVD,-0.0115,-0.4,0\nCVD,-0.0115,0.8,0\nCVD,-0.0115,-0.8,0\nCVD,-0.008,0.2,0\nCVD,-0.008,-0.2,0\nCVD,-0.008,0.6,0\nCVD,-0.008,-0.6,0\nCVD,-0.008,1,0\nCVD,-0.008,-1,0\nCVD,-0.0045,0,0\nCVD,-0.0045,0.4,0\nCVD,-0.0045,-0.4,0\nCVD,-0.0045,0.8,0\nCVD,-0.0045,-0.8,0\nCVD,-0.001,0.2,0\nCVD,-0.001,-0.2,0\nCVD,-0.001,0.5,0\nCVD,0.0025,0,1\nCVD,0.0025,0.4,1\nCVD,0.0025,-0.4,1\nCVD,0.0025,0.8,1\nCVD,0.0025,-0.8,1\nCVD,0.006,0.2,1\nCVD,0.006,-0.2,1\nCVD,0.006,0.6,1\nCVD,0.006,-0.6,1\nCVD,0.0095,0,1\nCVD,0.0095,0.3,1\nCVD,0.0095,-0.3,1\nCVD,0.013,0.15,1\nCVD,0.013,-0.15,1\nCVD,0.0165,0,1\nCVD,0.0165,0.25,1\nCVD,0.019,0.1,0.5\nCVD,0.022,0,1\nCVD,0.025,0,1\nCVD,0.026,0.15,1\nSex,0.003,0,0\nSex,0.003,0.3,0\nSex,0.003,-0.3,0\nSex,0.0065,0.15,0\nSex,0.0065,-0.15,0\nSex,0.01,0,0\nSex,0.01,0.25,0\nSex,0.01,-0.25,0\nSex,0.0135,0.1,0\nSex,0.0135,-0.1,0\nSex,0.017,0,0\nSex,0.017,0.2,0\nSex,0.0205,0.1,0\nSex,0.0205,-0.1,0\nSex,0.024,0,0\nSex,0.027,0.1,0\nSex,0.03,0,0\nSex,0.033,0,0\nSex,0.036,0,0\nSex,0.04,0,0\nSex,0.044,0,0\nSex,0.048,0,0\nSex,0.052,0,0\nSex,0.055,0,0\nSex,-0.0165,0,1\nSex,-0.013,0.2,1\nSex,-0.013,-0.2,1\nSex,-0.013,0.4,1\nSex,-0.0095,0,1\nSex,-0.0095,0.4,1\nSex,-0.0095,-0.4,1\nSex,-0.0095,0.7,1\nSex,-0.006,0.2,1\nSex,-0.006,-0.2,1\nSex,-0.006,0.6,1\nSex,-0.006,-0.6,1\nSex,-0.006,1,1\nSex,-0.006,-1,1\nSex,-0.0025,0,1\nSex,-0.0025,0.4,1\nSex,-0.0025,-0.4,1\nSex,-0.0025,0.8,1\nSex,-0.0025,-0.8,1\nSex,0.001,0.2,1\nSex,0.001,-0.2,1\nSex,0.001,0.5,1\nSex,0.001,-0.5,1","format":{"type":"csv","parse":{"s":"number","o":"number","v":"number"}}},
    "mark":{"type":"circle","size":20,"opacity":1},
    "encoding":{
     "x":{"field":"s","type":"quantitative","scale":{"domain":[-0.0753,0.2583],"nice":false,"zero":false},
      "axis":{"values":[-0.05,0,0.05,0.1,0.15,0.2,0.25],"labelExpr":"(datum.value < 0 ? '-' : '') + format(abs(datum.value), '.2f')","title":"SHAP value (impact on model output)","titleFontSize":16,"titleFontWeight":"bold","labelFontSize":16,"tickSize":4,"labelPadding":4,"titlePadding":10,"domainColor":"#333","tickColor":"#333"}},
     "y":{"field":"f","type":"nominal","axis":{"title":null,"domain":false,"ticks":false,"labelFontSize":15.5,"labelPadding":6}},
     "yOffset":{"field":"o","type":"quantitative","scale":{"domain":[-1,1],"range":[-4.23,19.77]}},
     "color":{"field":"v","type":"quantitative","scale":{"domain":[0,0.5,1],"range":["#2b86da","#8b3cb6","#ef1f5f"]},
      "legend":{"orient":"none","legendX":413,"legendY":1,"direction":"vertical","gradientLength":474,"gradientThickness":4,"title":null,"values":[0,1],"labelExpr":"datum.value > 0.5 ? 'High' : 'Low'","labelFontSize":15,"labelColor":"#222","labelOffset":3,"gradientStrokeWidth":0}}
    }},
   {"data":{"values":[{}]},
    "mark":{"type":"text","text":"Feature value","angle":270,"fontSize":15,"font":"Liberation Serif","color":"#333","dx":-9,"baseline":"middle","align":"center"},
    "encoding":{"x":{"datum":0.2806,"type":"quantitative","axis":null},"y":{"datum":"NLR","type":"nominal","axis":{"title":null,"domain":false,"ticks":false,"labelFontSize":15.5,"labelPadding":6}}}},
   {"data":{"values":[{}]},
    "mark":{"type":"text","text":"","opacity":0},
    "encoding":{"x":{"datum":0,"type":"quantitative",
      "axis":{"orient":"top","title":"Top 15 SHAP Feature Importance","labels":false,"ticks":false,"domain":false,"titleFontSize":16,"titleFontWeight":"bold","titlePadding":12,"titleX":224}}}}
  ]},
 {"width":557,"height":475,
  "view":{"stroke":"#a8a8a8"},
  "title":{"text":"B","anchor":"start","fontSize":19,"offset":4,"dx":3},
  "resolve":{"axis":{"x":"independent"}},
  "layer":[
   {"data":{"values":[{"f":"OPTH","r":7},{"f":"TZPD","r":6.5},{"f":"Sex","r":6},{"f":"CA","r":5.5},{"f":"Weight","r":5},{"f":"PCT","r":4.5},{"f":"Age","r":4},{"f":"BUN","r":3.5},{"f":"EGFR","r":3.5},{"f":"LYM","r":2.5},{"f":"NLR","r":2},{"f":"DD","r":1.5},{"f":"CRP","r":1.5},{"f":"ALB","r":1},{"f":"WBC","r":0.5}]},
    "mark":{"type":"bar","color":"#2171b0"},
    "encoding":{
     "y":{"field":"f","type":"nominal","sort":null,"scale":{"paddingInner":0.21,"paddingOuter":0.79},
      "axis":{"title":null,"labelFontSize":15.5,"tickSize":4,"labelPadding":15,"domainColor":"#999","tickColor":"#555"}},
     "x":{"field":"r","type":"quantitative","scale":{"domain":[0,7.33],"nice":false},
      "axis":{"values":[0,1,2,3,4,5,6,7],"title":"Feature rankings","titleFontSize":16,"titleFontWeight":"bold","labelFontSize":16,"tickSize":4,"labelPadding":4,"titlePadding":10,"domainColor":"#999","tickColor":"#555"}}
    }},
   {"data":{"values":[{}]},
    "mark":{"type":"text","text":"","opacity":0},
    "encoding":{"x":{"datum":0,"type":"quantitative",
      "axis":{"orient":"top","title":"Top 15 Boruta Feature Importance","labels":false,"ticks":false,"domain":false,"titleFontSize":16,"titleFontWeight":"bold","titlePadding":12}}}}
  ]},
 {"width":403,"height":83,
  "layer":[
   {"data":{"name":"segs"},
    "transform":[{"filter":"datum.d === 'pos'"},{"aggregate":[{"op":"min","field":"lo","as":"lo"},{"op":"max","field":"hi","as":"hi"}]}],
    "mark":{"type":"rect","fill":{"gradient":"linear","x1":0,"y1":0,"x2":0,"y2":1,"stops":[{"offset":0,"color":"#f3b1c0"},{"offset":1,"color":"#f8d2db"}]}},
    "encoding":{"x":{"field":"lo","type":"quantitative","axis":null},"x2":{"field":"hi"},"y":{"datum":37,"type":"quantitative","axis":null},"y2":{"datum":56}}},
   {"data":{"name":"segs"},
    "transform":[{"filter":"datum.d === 'neg'"},{"aggregate":[{"op":"min","field":"lo","as":"lo"},{"op":"max","field":"hi","as":"hi"}]}],
    "mark":{"type":"rect","fill":{"gradient":"linear","x1":0,"y1":0,"x2":0,"y2":1,"stops":[{"offset":0,"color":"#c3d8ef"},{"offset":1,"color":"#dbe7f5"}]}},
    "encoding":{"x":{"field":"lo","type":"quantitative","axis":null},"x2":{"field":"hi"},"y":{"datum":37,"type":"quantitative","axis":null},"y2":{"datum":56}}},
   {"data":{"name":"labs"},
    "transform":[{"filter":"datum.d === 'pos'"},{"aggregate":[{"op":"min","field":"lo","as":"lo"},{"op":"max","field":"hi","as":"hi"}]}],
    "mark":{"type":"rect","fill":{"gradient":"linear","x1":0,"y1":0,"x2":0,"y2":1,"stops":[{"offset":0,"color":"#f8d2db"},{"offset":1,"color":"#fefafb"}]}},
    "encoding":{"x":{"field":"lo","type":"quantitative","axis":null},"x2":{"field":"hi"},"y":{"datum":56,"type":"quantitative","axis":null},"y2":{"datum":81}}},
   {"data":{"name":"labs"},
    "transform":[{"filter":"datum.d === 'neg'"},{"aggregate":[{"op":"min","field":"lo","as":"lo"},{"op":"max","field":"hi","as":"hi"}]}],
    "mark":{"type":"rect","fill":{"gradient":"linear","x1":0,"y1":0,"x2":0,"y2":1,"stops":[{"offset":0,"color":"#dbe7f5"},{"offset":1,"color":"#fbfdff"}]}},
    "encoding":{"x":{"field":"lo","type":"quantitative","axis":null},"x2":{"field":"hi"},"y":{"datum":56,"type":"quantitative","axis":null},"y2":{"datum":81}}},
   {"data":{"name":"force"},
    "mark":{"type":"point","shape":"M-1,0.2333L1,0L1,0.2333Z","size":26536,"filled":true,"opacity":1,"strokeWidth":0,"fill":{"gradient":"linear","x1":0,"y1":0,"x2":0,"y2":1,"stops":[{"offset":0,"color":"#f3b1c0"},{"offset":1,"color":"#f8d2db"}]}},
    "encoding":{"x":{"datum":0.2102,"type":"quantitative","axis":null},"y":{"datum":37,"type":"quantitative","axis":null}}},
   {"data":{"name":"force"},
    "mark":{"type":"point","shape":"M-1,0L1,0.4414L-1,0.4414Z","size":7413,"filled":true,"opacity":1,"strokeWidth":0,"fill":{"gradient":"linear","x1":0,"y1":0,"x2":0,"y2":1,"stops":[{"offset":0,"color":"#c3d8ef"},{"offset":1,"color":"#dbe7f5"}]}},
    "encoding":{"x":{"datum":0.6616,"type":"quantitative","axis":null},"y":{"datum":37,"type":"quantitative","axis":null}}},
   {"data":{"name":"links"},
    "mark":{"type":"rule","strokeWidth":1},
    "encoding":{"x":{"field":"s","type":"quantitative","axis":null},"x2":{"field":"b"},"y":{"datum":37,"type":"quantitative","axis":null},"y2":{"datum":56},
     "color":{"condition":{"test":"datum.d === 'pos'","value":"#f09aae"},"value":"#9dbfe6"}}},
   {"data":{"name":"links"},
    "mark":{"type":"rule","strokeWidth":1},
    "encoding":{"x":{"field":"b","type":"quantitative","axis":null},"y":{"datum":56,"type":"quantitative","axis":null},"y2":{"datum":81},
     "color":{"condition":{"test":"datum.d === 'pos'","value":"#f09aae"},"value":"#9dbfe6"}}},
   {"data":{"name":"segs"},
    "mark":{"type":"rect"},
    "encoding":{
     "x":{"field":"lo","type":"quantitative","scale":{"domain":[0.1697,0.682],"range":[0,1081],"nice":false,"zero":false},
      "axis":{"orient":"top","values":[0.2,0.25,0.3,0.35,0.4,0.45,0.5,0.55,0.6,0.65],"format":".2f","title":null,"domain":false,"labelFont":"DejaVu Sans","labelFontSize":8.5,"labelColor":"#333","tickSize":3,"tickColor":"#555","labelPadding":3}},
     "x2":{"field":"hi"},
     "y":{"datum":12,"type":"quantitative","scale":{"domain":[0,83],"nice":false,"zero":false,"reverse":true},"axis":null},
     "y2":{"datum":37},
     "fill":{"condition":{"test":"datum.d === 'pos'","value":"#e8215a"},"value":"#2e7dc5"}}},
   {"data":{"name":"segs"},
    "transform":[{"filter":"datum.d === 'pos' && datum.hi < 0.59"}],
    "mark":{"type":"point","shape":"M0,-1L0.4,0L0,1","size":625,"filled":false,"stroke":"white","strokeWidth":1,"opacity":0.85},
    "encoding":{"x":{"field":"hi","type":"quantitative","axis":null},"y":{"datum":24.5,"type":"quantitative","axis":null}}},
   {"data":{"name":"segs"},
    "transform":[{"filter":"datum.d === 'neg' && datum.lo > 0.592"}],
    "mark":{"type":"point","shape":"M0,-1L-0.4,0L0,1","size":625,"filled":false,"stroke":"white","strokeWidth":1,"opacity":0.8},
    "encoding":{"x":{"field":"lo","type":"quantitative","axis":null},"y":{"datum":24.5,"type":"quantitative","axis":null}}},
   {"data":{"name":"segs"},
    "transform":[{"filter":"datum.d === 'pos'"},{"aggregate":[{"op":"min","field":"lo","as":"lo"}]}],
    "mark":{"type":"point","shape":"M0,-1.05L0.4,0L0,1.05Z","size":625,"filled":true,"color":"white","opacity":1,"strokeWidth":0},
    "encoding":{"x":{"field":"lo","type":"quantitative","axis":null},"y":{"datum":24.5,"type":"quantitative","axis":null}}},
   {"data":{"name":"segs"},
    "transform":[{"filter":"datum.d === 'neg'"},{"aggregate":[{"op":"max","field":"hi","as":"hi"}]}],
    "mark":{"type":"point","shape":"M0,-1.05L-0.4,0L0,1.05Z","size":625,"filled":true,"color":"white","opacity":1,"strokeWidth":0},
    "encoding":{"x":{"field":"hi","type":"quantitative","axis":null},"y":{"datum":24.5,"type":"quantitative","axis":null}}},
   {"data":{"name":"labs"},
    "transform":[{"aggregate":[{"op":"min","field":"lo","as":"lo"},{"op":"max","field":"hi","as":"hi"}]}],
    "mark":{"type":"rule","color":"#b3b3b3","strokeWidth":2},
    "encoding":{"x":{"field":"lo","type":"quantitative","axis":null},"x2":{"field":"hi"},"y":{"datum":0,"type":"quantitative","axis":null}}},
   {"data":{"name":"labs"},
    "transform":[{"filter":"datum.d === 'pos'"}],
    "mark":{"type":"text","font":"DejaVu Sans","fontSize":11,"align":"right","baseline":"middle","dx":-15,"color":"#e8215a"},
    "encoding":{"x":{"field":"hi","type":"quantitative","axis":null},"y":{"datum":70,"type":"quantitative","axis":null},"text":{"field":"t"}}},
   {"data":{"name":"labs"},
    "transform":[{"filter":"datum.d === 'neg'"}],
    "mark":{"type":"text","font":"DejaVu Sans","fontSize":11,"align":"left","baseline":"middle","dx":15,"color":"#2e7dc5"},
    "encoding":{"x":{"field":"lo","type":"quantitative","axis":null},"y":{"datum":70,"type":"quantitative","axis":null},"text":{"field":"t"}}},
   {"data":{"name":"force"},
    "mark":{"type":"rule","color":"#e2e2e2","strokeWidth":1},
    "encoding":{"x":{"field":"base","type":"quantitative","axis":null},"y":{"datum":-27,"type":"quantitative","axis":null},"y2":{"datum":0}}},
   {"data":{"name":"force"},
    "mark":{"type":"rule","color":"#e2e2e2","strokeWidth":1},
    "encoding":{"x":{"field":"fx","type":"quantitative","axis":null},"y":{"datum":-20,"type":"quantitative","axis":null},"y2":{"datum":0}}},
   {"data":{"name":"force"},
    "mark":{"type":"text","text":"base value","font":"DejaVu Sans","fontSize":11,"color":"#a8a8a8","baseline":"middle","align":"center"},
    "encoding":{"x":{"field":"base","type":"quantitative","axis":null},"y":{"datum":-49,"type":"quantitative","axis":null}}},
   {"data":{"name":"force"},
    "mark":{"type":"text","text":"f(x)","font":"DejaVu Sans","fontSize":11,"color":"#a8a8a8","baseline":"middle","align":"center"},
    "encoding":{"x":{"field":"fx","type":"quantitative","axis":null},"y":{"datum":-49,"type":"quantitative","axis":null}}},
   {"data":{"name":"force"},
    "mark":{"type":"text","font":"DejaVu Sans","fontSize":13,"fontWeight":"bold","color":"#222","baseline":"middle","align":"center"},
    "encoding":{"x":{"field":"fx","type":"quantitative","axis":null},"y":{"datum":-30,"type":"quantitative","axis":null},"text":{"field":"fx","type":"quantitative","format":".2f"}}},
   {"data":{"name":"force"},
    "mark":{"type":"text","text":"higher","font":"DejaVu Sans","fontSize":12,"color":"#e8215a","baseline":"middle","align":"right","dx":-14},
    "encoding":{"x":{"field":"fx","type":"quantitative","axis":null},"y":{"datum":-68,"type":"quantitative","axis":null}}},
   {"data":{"name":"force"},
    "mark":{"type":"text","text":"lower","font":"DejaVu Sans","fontSize":12,"color":"#2e7dc5","baseline":"middle","align":"left","dx":16},
    "encoding":{"x":{"field":"fx","type":"quantitative","axis":null},"y":{"datum":-68,"type":"quantitative","axis":null}}},
   {"data":{"name":"force"},
    "mark":{"type":"text","text":"→","font":"DejaVu Sans","fontSize":9,"color":"#e8215a","baseline":"middle","align":"center","dx":1},
    "encoding":{"x":{"field":"fx","type":"quantitative","axis":null},"y":{"datum":-72,"type":"quantitative","axis":null}}},
   {"data":{"name":"force"},
    "mark":{"type":"text","text":"←","font":"DejaVu Sans","fontSize":9,"color":"#2e7dc5","baseline":"middle","align":"center","dx":1},
    "encoding":{"x":{"field":"fx","type":"quantitative","axis":null},"y":{"datum":-64,"type":"quantitative","axis":null}}},
   {"data":{"values":[{}]},
    "mark":{"type":"text","text":"C","font":"Liberation Serif","fontSize":19,"fontWeight":"bold","color":"#111","baseline":"middle","align":"center"},
    "encoding":{"x":{"datum":0.1502,"type":"quantitative","axis":null},"y":{"datum":-84,"type":"quantitative","axis":null}}},
   {"data":{"values":[{}]},
    "mark":{"type":"text","text":"SHAP force plot","font":"Liberation Serif","fontSize":16,"fontWeight":"bold","color":"#222","baseline":"middle","align":"center"},
    "encoding":{"x":{"datum":0.4289,"type":"quantitative","axis":null},"y":{"datum":146,"type":"quantitative","axis":null}}},
   {"data":{"values":[{}]},
    "mark":{"type":"text","text":"ARTICLE IN PRESS","font":"Liberation Sans","fontSize":86,"angle":-31,"color":"#bcbcbc","opacity":0.6,"baseline":"middle","align":"center"},
    "encoding":{"x":{"datum":0.386,"type":"quantitative","axis":null},"y":{"datum":46,"type":"quantitative","axis":null}}}
  ]}
]
}
